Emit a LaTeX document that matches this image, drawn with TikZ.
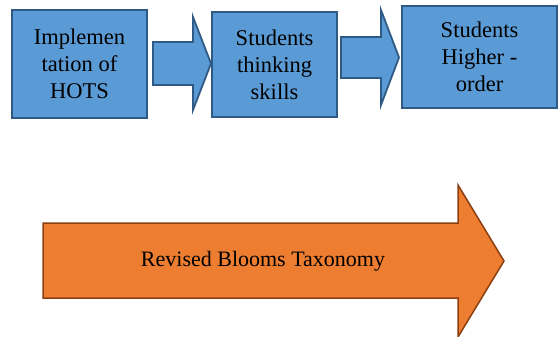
\documentclass[tikz,border=0pt]{standalone}
\usepackage{fontspec}
\setmainfont{Liberation Serif}
\usetikzlibrary{positioning}
\definecolor{boxblue}{HTML}{5B9BD5}
\definecolor{lineblue}{HTML}{2F5A85}
\definecolor{boxorange}{HTML}{ED7D31}
\definecolor{linebrown}{HTML}{8A3F10}
\begin{document}
\begin{tikzpicture}[x=1pt,y=-1pt,
    stagebox/.style={draw=lineblue,fill=boxblue,line width=1.8pt,align=center,
      font=\fontsize{22.5}{27}\selectfont,inner sep=0pt},
    blockarrow/.style={draw=lineblue,fill=boxblue,line width=1.8pt,line join=miter}]
  \useasboundingbox (0,0) rectangle (560,337);
  % three stages
  \node[stagebox,minimum width=135pt,minimum height=108pt] (hots) at (79.5,64) {Implemen\\tation of\\HOTS};
  \node[stagebox,minimum width=125pt,minimum height=105pt] (think) at (274.5,64.5) {Students\\thinking\\skills};
  \node[stagebox,minimum width=155pt,minimum height=102pt] (higher) at (479.5,57) {Students\\Higher -\\order};
  % arrows between the stages
  \draw[blockarrow] (153,42) -- (193,42) -- (193,17) -- (211,63.5) -- (193,110) -- (193,85) -- (153,85) -- cycle;
  \draw[blockarrow] (341,37) -- (381,37) -- (381,10) -- (399,57.5) -- (381,105) -- (381,78) -- (341,78) -- cycle;
  % big arrow
  \draw[draw=linebrown,fill=boxorange,line width=1.5pt,line join=miter]
    (43,223) -- (458,223) -- (458,185) -- (504,261) -- (458,337) -- (458,298) -- (43,298) -- cycle;
  \node[font=\fontsize{22}{26}\selectfont] (rbt) at (263,261) {Revised Blooms Taxonomy};
\end{tikzpicture}
\end{document}
